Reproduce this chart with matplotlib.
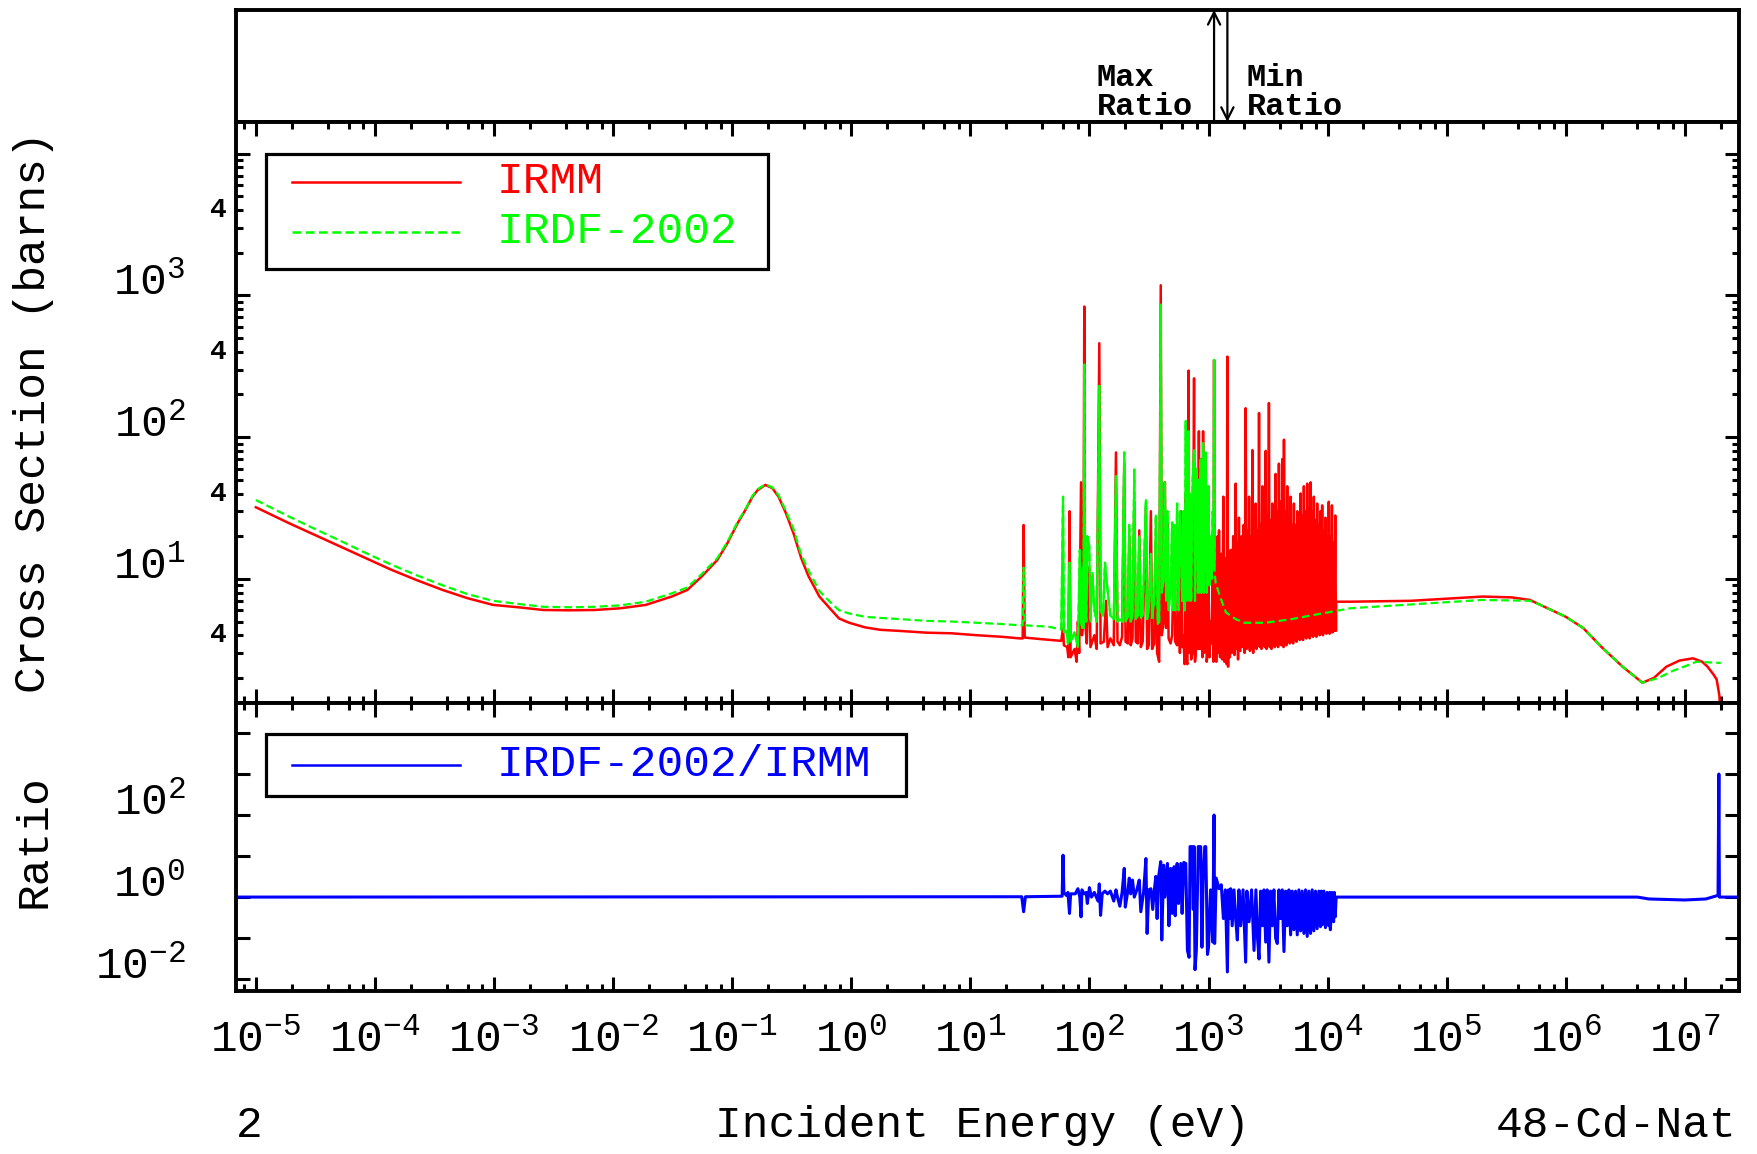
import numpy as np
import matplotlib
matplotlib.use("Agg")
import matplotlib.pyplot as plt
from matplotlib.ticker import FixedLocator, FuncFormatter, NullLocator
from matplotlib.patches import Rectangle
import matplotlib.transforms as mtransforms

plt.rcParams['font.family'] = ['Liberation Mono', 'DejaVu Sans Mono']
plt.rcParams['mathtext.fontset'] = 'custom'
plt.rcParams['mathtext.rm'] = 'Liberation Mono'
plt.rcParams['mathtext.it'] = 'Liberation Mono'

# ---- IRMM (red) ----
irmm_low_E = [1e-5, 1.9e-5, 3.13e-5, 5.1e-5, 8.4e-5, 1.37e-4, 2.24e-4, 3.7e-4, 6e-4, 9.8e-4,
              1.6e-3, 2.6e-3, 4.3e-3, 7e-3, 1.15e-2, 1.88e-2, 3.1e-2, 4.2e-2, 5.55e-2, 7.5e-2,
              9.1e-2, 0.111, 0.129, 0.148, 0.164, 0.19, 0.217, 0.245, 0.283, 0.327,
              0.38, 0.436, 0.54, 0.66, 0.79, 0.96, 1.3, 1.75, 2.57, 4.3,
              6.9, 11.4, 18.5, 26]
irmm_low_xs = [32, 24.7, 20.4, 16.9, 14, 11.6, 9.8, 8.35, 7.3, 6.55,
               6.3, 6.03, 6.0, 6.03, 6.2, 6.55, 7.5, 8.35, 10.4, 13.6,
               17.8, 24.7, 30.6, 38, 42.4, 46, 43.7, 38, 29, 21,
               14, 10.5, 7.5, 6.2, 5.25, 4.9, 4.55, 4.37, 4.29, 4.17,
               4.13, 4.0, 3.9, 3.8]

# resolved resonances, (energy, xs) pairs
irmm_res = [(27.5, 3.8), (28, 24), (28.6, 3.85), (40, 3.75), (58, 3.65), (60, 4.5), (61, 3.4),
            (65, 3.3), (66.5, 2.8), (68, 30), (69.5, 2.8), (75, 3.2), (78, 2.6), (80, 5), (82, 3.0),
            (85, 48), (86.5, 4), (89, 5), (90.5, 835), (92, 5), (95, 3.5), (99.6, 12), (102, 3.3),
            (110, 4), (115, 3.2), (121, 460), (124, 3.5), (132, 3.6), (138, 7), (142, 3.3),
            (150, 3.8), (160, 3.4), (167, 78), (172, 3.6), (180, 3.4), (188, 3.9), (196, 65),
            (201, 3.6), (210, 3.5), (216, 20), (222, 3.4), (230, 3.8), (238, 35), (245, 3.6),
            (255, 3.5), (262, 22), (270, 3.3), (280, 3.6), (298, 32), (305, 3.2), (315, 3.4),
            (328, 30), (336, 3.2), (350, 3.5), (361, 18), (370, 3.0), (385, 2.6), (397, 1180),
            (405, 4), (420, 5), (430, 48), (440, 4.5), (452, 25), (462, 3.8), (480, 3.5), (495, 4),
            (514, 20), (525, 3.6), (545, 3.4), (560, 22), (575, 3.0), (585, 30), (600, 3.3),
            (615, 4), (630, 2.5), (644, 40), (655, 2.6), (665, 2.5), (680, 295), (690, 3),
            (700, 20), (715, 2.7), (735, 3), (756, 260), (770, 2.6), (790, 3.5), (800, 45),
            (815, 3.2), (830, 110), (845, 3.2), (860, 70), (875, 3.6), (890, 2.8), (900, 110),
            (915, 3.0), (930, 4), (948, 60), (965, 2.6), (985, 3), (1000, 9), (1020, 2.8),
            (1040, 5), (1060, 3.5), (1085, 12), (1100, 2.6), (1113, 350), (1125, 3.5)]

# dense forest 1.1 keV - 12 keV
irmm_dense = [(1138, 12), (1160, 2.6), (1190, 20), (1205, 3.0), (1225, 22), (1250, 2.8),
              (1280, 15), (1300, 2.7), (1333, 38), (1360, 2.6), (1385, 14), (1420, 2.5),
              (1440, 370), (1460, 2.4), (1490, 15), (1510, 2.8), (1535, 16), (1570, 3.0),
              (1610, 20), (1650, 2.9), (1690, 47), (1720, 3.2), (1745, 18), (1770, 2.7),
              (1800, 27), (1850, 3.1), (1900, 20), (1935, 3.3), (1970, 24), (2010, 3.0),
              (2050, 160), (2085, 3.2), (2120, 22), (2155, 3.3), (2190, 38), (2225, 3.1),
              (2260, 20), (2300, 3.2), (2335, 81), (2370, 3.0), (2410, 22), (2450, 3.3),
              (2490, 34), (2530, 3.2), (2570, 22), (2610, 3.4), (2655, 148), (2700, 3.3),
              (2740, 24), (2785, 3.2), (2830, 45), (2875, 3.4), (2920, 24), (2970, 3.3),
              (3020, 80), (3065, 3.2), (3110, 28), (3160, 3.4), (3215, 174), (3265, 3.3),
              (3320, 26), (3375, 3.2), (3430, 34), (3485, 3.4), (3540, 24), (3600, 3.3),
              (3660, 55), (3720, 3.4), (3780, 30), (3840, 3.3), (3900, 65), (3965, 3.5),
              (4030, 35), (4095, 3.4), (4160, 70), (4195, 3.5), (4230, 40), (4265, 3.3),
              (4300, 96), (4370, 3.5), (4440, 30), (4510, 3.4), (4580, 45), (4655, 3.6),
              (4730, 28), (4810, 3.5), (4890, 38), (4970, 3.6), (5050, 24), (5130, 3.5),
              (5210, 34), (5295, 3.7), (5380, 24), (5470, 3.6), (5560, 30), (5650, 3.8),
              (5740, 26), (5835, 3.7), (5930, 40), (6025, 3.8), (6120, 28), (6220, 3.7),
              (6320, 45), (6425, 3.9), (6530, 30), (6635, 3.8), (6740, 47), (6850, 3.9),
              (6960, 32), (7075, 3.8), (7190, 48), (7305, 4.0), (7420, 30), (7540, 3.9),
              (7660, 38), (7785, 4.0), (7910, 26), (8040, 3.9), (8170, 34), (8305, 4.1),
              (8440, 24), (8575, 4.0), (8710, 30), (8855, 4.1), (9000, 33), (9150, 4.0),
              (9300, 22), (9445, 4.2), (9590, 27), (9745, 4.1), (9900, 20), (10065, 4.2),
              (10230, 35), (10390, 4.1), (10550, 20), (10710, 4.2), (10870, 33), (11050, 4.2),
              (11230, 18), (11410, 4.3), (11590, 28), (11750, 4.3)]

irmm_high_E = [11800, 15500, 50000, 2e5, 3.5e5, 5e5, 6e5, 1e6, 1.4e6, 2e6, 3e6, 4.4e6,
               5.5e6, 7e6, 9e6, 1.17e7, 1.4e7, 1.55e7, 1.75e7, 1.85e7, 1.95e7, 2.0e7]
irmm_high_xs = [6.9, 6.9, 7.0, 7.5, 7.4, 7.1, 6.6, 5.4, 4.5, 3.3, 2.4, 1.85,
                2.0, 2.4, 2.65, 2.75, 2.6, 2.4, 2.1, 1.95, 1.5, 1.0]

# ---- IRDF-2002 (green) ----
irdf_low_E = irmm_low_E
irdf_low_xs = [36, 27.5, 22.5, 18.6, 15.2, 12.6, 10.6, 9.0, 7.8, 7.0,
               6.65, 6.35, 6.3, 6.35, 6.5, 6.9, 7.9, 8.7, 10.8, 14,
               18.2, 25.2, 31, 38.5, 43, 46.5, 44.2, 39, 30, 22.5,
               14.8, 11.5, 8.2, 6.9, 6.0, 5.7, 5.4, 5.3, 5.2, 5.05,
               5.0, 4.9, 4.8, 4.7]

irdf_res = [(27.5, 4.7), (28, 12), (28.6, 4.7), (45, 4.6), (58, 4.4), (60, 38), (61, 4.2),
            (64, 4.3), (66, 3.5), (68, 13), (69.5, 3.6), (75, 4.2), (80, 3.3), (83, 16), (85, 5),
            (87, 4.5), (88, 12), (89, 4.5), (90.5, 325), (92, 8), (94, 5), (96, 20), (99.6, 17),
            (102, 5), (106, 11), (110, 6), (115, 5), (121, 230), (124, 6), (130, 5.5), (135, 13),
            (142, 8.3), (150, 5.5), (160, 5.2), (167, 53), (172, 5), (180, 5.2), (188, 5),
            (196, 78), (201, 5), (210, 5.4), (216, 24), (222, 5), (230, 5.5), (238, 59),
            (245, 5.2), (255, 5.5), (262, 20), (270, 5.3), (280, 5.6), (298, 36), (305, 5.2),
            (315, 6), (328, 15), (336, 5.3), (350, 7), (361, 28), (375, 4.8), (385, 5),
            (397, 860), (405, 8), (420, 10), (430, 48), (440, 7), (452, 30), (462, 6), (480, 8),
            (495, 25), (505, 6), (514, 24), (525, 6), (545, 34), (560, 6), (575, 30), (585, 20),
            (600, 7), (615, 30), (630, 6), (644, 130), (655, 7), (665, 10), (680, 110), (690, 7),
            (700, 40), (715, 7), (735, 50), (756, 81), (770, 7), (790, 60), (800, 40), (815, 8),
            (830, 50), (845, 8), (860, 70), (875, 8), (890, 10), (900, 91), (915, 8), (930, 20),
            (948, 78), (965, 8), (985, 10), (1000, 45), (1020, 9), (1040, 20), (1060, 10),
            (1085, 30), (1100, 12), (1113, 350)]

irdf_high_E = [1125, 1150, 1250, 1400, 1690, 2000, 3000, 5000, 8000, 11300, 15500, 50000,
               2e5, 5e5, 6e5, 1e6, 1.4e6, 2e6, 3e6, 4.4e6, 6e6, 8e6, 1.05e7, 1.25e7, 2e7]
irdf_high_xs = [11, 9.3, 7.5, 5.8, 5.2, 4.9, 4.9, 5.2, 5.6, 5.9, 6.2, 6.6,
                7.1, 7.0, 6.6, 5.4, 4.5, 3.3, 2.4, 1.85, 2.0, 2.25, 2.45, 2.6, 2.55]

# ---- ratio IRDF-2002/IRMM (blue) ----
ratio_res = [(5e-6, 1.0), (27, 1.02), (28, 0.44), (29, 1.02), (59, 1.05), (60, 10.5), (61, 1.3),
             (64, 1.1), (66, 1.3), (68, 0.4), (69.5, 1.2), (76, 1.2), (80, 1.6), (83, 1.0),
             (85, 0.33), (86.5, 1.5), (90.5, 1.2), (94, 1.3), (96, 0.7), (100, 1.7), (104, 1.0),
             (110, 1.3), (118, 0.8), (121, 2.1), (124, 0.36), (128, 1.2), (135, 1.4), (142, 1.2),
             (150, 1.4), (160, 0.8), (167, 1.5), (172, 1.0), (180, 0.6), (188, 1.3), (196, 5.0),
             (200, 0.57), (210, 1.4), (216, 2.9), (222, 1.2), (230, 2.6), (238, 1.0), (250, 1.5),
             (262, 2.6), (270, 0.44), (285, 1.3), (298, 8.7), (305, 0.13), (315, 1.5), (328, 1.6),
             (340, 0.5), (350, 1.4), (361, 3.2), (370, 0.3), (380, 3.0), (397, 7.3), (405, 0.09),
             (420, 6.0), (430, 1.0), (452, 6.6), (465, 0.2), (480, 5.0), (495, 0.4), (514, 5.5),
             (525, 0.35), (545, 6.6), (560, 0.7), (585, 6.6), (600, 0.4), (620, 7.0), (644, 6.6),
             (665, 0.05), (687, 0.034), (700, 17), (730, 17), (745, 0.5), (756, 17), (770, 0.017),
             (790, 0.05), (820, 17), (860, 17), (880, 0.06), (900, 2.5), (930, 17), (948, 17),
             (980, 0.04), (1000, 0.06), (1040, 1.5), (1085, 0.08), (1113, 100), (1125, 0.074),
             (1160, 2.9), (1190, 2.2), (1225, 1.6), (1280, 2.0), (1333, 0.3), (1385, 1.5),
             (1440, 0.015)]

ratio_dense = [(1470, 1.5), (1500, 0.3), (1535, 1.6), (1580, 0.2), (1637, 1.5), (1690, 0.3),
               (1746, 0.09), (1800, 1.5), (1862, 0.2), (1950, 1.5), (2050, 0.026), (2100, 1.4),
               (2190, 0.25), (2300, 1.5), (2410, 0.05), (2500, 1.5), (2580, 0.1), (2655, 0.031),
               (2740, 1.4), (2830, 0.2), (2920, 1.5), (3020, 0.08), (3110, 1.5), (3215, 0.026),
               (3320, 1.4), (3430, 0.2), (3540, 1.5), (3660, 0.1), (3780, 0.074), (3900, 1.5),
               (4030, 0.3), (4160, 1.5), (4300, 0.047), (4440, 1.4), (4580, 0.2), (4730, 1.5),
               (4890, 0.12), (5050, 1.4), (5210, 0.16), (5380, 1.4), (5560, 0.12), (5740, 1.5),
               (5930, 0.15), (6120, 1.4), (6320, 0.13), (6530, 1.5), (6740, 0.11), (6960, 1.4),
               (7190, 0.13), (7420, 1.5), (7660, 0.15), (7910, 1.4), (8170, 0.17), (8440, 1.4),
               (8710, 0.19), (8850, 1.4), (9000, 0.21), (9300, 1.4), (9590, 0.18), (9900, 1.3),
               (10230, 0.2), (10400, 1.3), (10550, 0.16), (10870, 1.3), (11230, 0.25),
               (11400, 1.3), (11590, 0.33)]

ratio_high_E = [11800, 4e6, 5e6, 1e7, 1.5e7, 1.9e7, 1.93e7, 1.95e7, 3e7]
ratio_high_v = [1.0, 1.0, 0.9, 0.85, 0.9, 1.1, 1000, 1.0, 1.0]

# assemble series
irmm_E = np.concatenate([irmm_low_E, [p[0] for p in irmm_res], [p[0] for p in irmm_dense], irmm_high_E])
irmm_xs = np.concatenate([irmm_low_xs, [p[1] for p in irmm_res], [p[1] for p in irmm_dense], irmm_high_xs])
irdf_E = np.concatenate([irdf_low_E, [p[0] for p in irdf_res], irdf_high_E])
irdf_xs = np.concatenate([irdf_low_xs, [p[1] for p in irdf_res], irdf_high_xs])
ratio_E = np.concatenate([[p[0] for p in ratio_res], [p[0] for p in ratio_dense], ratio_high_E])
ratio_v = np.concatenate([[p[1] for p in ratio_res], [p[1] for p in ratio_dense], ratio_high_v])

# where max / min ratio occur (resonance region)
sel = ratio_E < 1e6
max_E = ratio_E[sel][np.argmax(ratio_v[sel])]
min_E = ratio_E[sel][np.argmin(ratio_v[sel])]

RED, GREEN, BLUE = '#ff0000', '#00ff00', '#0000ff'

fig = plt.figure(figsize=(17.58, 11.54), dpi=100)
L, W = 0.1342, 0.855
ax0 = fig.add_axes([L, 0.8943, W, 0.0971])
ax0.set_xscale('log')
ax0.set_xlim(6.8e-6, 2.85e7)
ax1 = fig.add_axes([L, 0.3908, W, 0.5035], sharex=ax0)
ax2 = fig.add_axes([L, 0.1412, W, 0.2496], sharex=ax0)

for ax in (ax0, ax1, ax2):
    for s in ax.spines.values():
        s.set_linewidth(2.8)

# top box with max/min ratio markers
ax0.set_ylim(0, 1)
ax0.tick_params(which='both', length=0, labelbottom=False, labelleft=False)
ax0.set_yticks([])
ax0.annotate('', xy=(max_E, 1.0), xytext=(max_E, 0.0),
             arrowprops=dict(arrowstyle='->', lw=1.6, color='black', mutation_scale=22,
                             shrinkA=0, shrinkB=0))
ax0.annotate('', xy=(min_E, 0.0), xytext=(min_E, 1.0),
             arrowprops=dict(arrowstyle='->', lw=1.6, color='black', mutation_scale=22,
                             shrinkA=0, shrinkB=0))
ax0.annotate('Max\nRatio', xy=(max_E, 0), xytext=(-15, 5), textcoords='offset points',
             ha='right', va='baseline', multialignment='left', fontsize=23,
             fontweight='bold', linespacing=0.95)
ax0.annotate('Min\nRatio', xy=(min_E, 0), xytext=(14, 5), textcoords='offset points',
             ha='left', va='baseline', multialignment='left', fontsize=23,
             fontweight='bold', linespacing=0.95)

# cross sections
ax1.plot(irmm_E, irmm_xs, color=RED, lw=1.8)
ax1.plot(irdf_E, irdf_xs, color=GREEN, lw=1.6, ls=(0, (3.5, 1.8)))
res = (irdf_E > 55) & (irdf_E < 1120)
ax1.plot(irdf_E[res], irdf_xs[res], color=GREEN, lw=1.5)
ax1.set_yscale('log')
ax1.set_ylim(1.33, 1.675e4)

# ratio
ax2.plot(ratio_E, ratio_v, color=BLUE, lw=2.2)
ax2.set_yscale('log')
ax2.set_ylim(10 ** -2.29, 10 ** 4.73)


def pow_label(v, keep):
    e = int(round(np.log10(v)))
    return r'$\mathregular{10^{%d}}$' % e if e in keep else ''


# x ticks
ax2.xaxis.set_major_locator(FixedLocator(10.0 ** np.arange(-5, 8)))
ax2.xaxis.set_minor_locator(FixedLocator([m * 10.0 ** k for k in range(-6, 8) for m in (2, 4, 6, 8)]))
ax2.xaxis.set_major_formatter(FuncFormatter(lambda v, p: pow_label(v, range(-5, 8))))

ax1.yaxis.set_major_locator(FixedLocator([1, 10, 100, 1000, 10000]))
ax1.yaxis.set_minor_locator(FixedLocator([m * 10.0 ** k for k in range(0, 5) for m in range(2, 10)]))
ax1.yaxis.set_major_formatter(FuncFormatter(lambda v, p: pow_label(v, (1, 2, 3))))
ax1.yaxis.set_minor_formatter(FuncFormatter(lambda v, p: ''))

ax2.yaxis.set_major_locator(FixedLocator(10.0 ** np.arange(-2, 5)))
ax2.yaxis.set_minor_locator(NullLocator())
ax2.yaxis.set_major_formatter(FuncFormatter(lambda v, p: pow_label(v, (-2, 0, 2))))

for ax in (ax1, ax2):
    ax.tick_params(which='both', direction='in', top=True, right=True, width=2.2)
    ax.tick_params(which='major', length=10)
    ax.tick_params(which='minor', length=5)
    ax.tick_params(axis='y', which='major', labelsize=32, pad=36)
    # the "10" of each label sits on its tick
    for t in ax.yaxis.get_major_ticks():
        t.label1.set_verticalalignment('baseline')
ax1.tick_params(axis='x', which='both', labelbottom=False)
ax2.tick_params(axis='x', which='major', labelsize=32, pad=20)

# the small "4" marks at 4 x 10^n
btr = mtransforms.blended_transform_factory(ax1.transAxes, ax1.transData)
for k in range(0, 4):
    ax1.text(-0.006, 4 * 10.0 ** k, '4', transform=btr, ha='right', va='center',
             fontsize=20, fontweight='bold')


# legends drawn as framed boxes like the original
def framed_legend(ax, box, entries):
    x0, y0, x1, y1 = box
    ax.add_patch(Rectangle((x0, y0), x1 - x0, y1 - y0, transform=ax.transAxes,
                           fill=True, facecolor='white', edgecolor='black', lw=2.3, zorder=5))
    for (ly, label, color, ls) in entries:
        ax.plot([0.0373, 0.149], [ly, ly], transform=ax.transAxes, color=color, lw=1.8,
                ls=ls, zorder=6, clip_on=False)
        ax.text(0.1737, ly, label, transform=ax.transAxes, color=color, fontsize=32,
                va='center', ha='left', zorder=6)


framed_legend(ax1, (0.020, 0.747, 0.354, 0.945),
              [(0.897, 'IRMM', RED, '-'), (0.811, 'IRDF-2002', GREEN, (0, (3.5, 1.8)))])
framed_legend(ax2, (0.020, 0.677, 0.4458, 0.892),
              [(0.785, 'IRDF-2002/IRMM', BLUE, '-')])

fig.text(0.0193, 0.643, 'Cross Section (barns)', rotation=90, ha='center', va='center', fontsize=32)
fig.text(0.0193, 0.2712, 'Ratio', rotation=90, ha='center', va='center', fontsize=32)
fig.text(236 / 1758, 0.0251, '2', ha='left', va='center', fontsize=32)
fig.text(0.4067, 0.0251, 'Incident Energy (eV)', ha='left', va='center', fontsize=32)
fig.text(0.9875, 0.0251, '48-Cd-Nat', ha='right', va='center', fontsize=32)

fig.savefig('out.png', dpi=100)
